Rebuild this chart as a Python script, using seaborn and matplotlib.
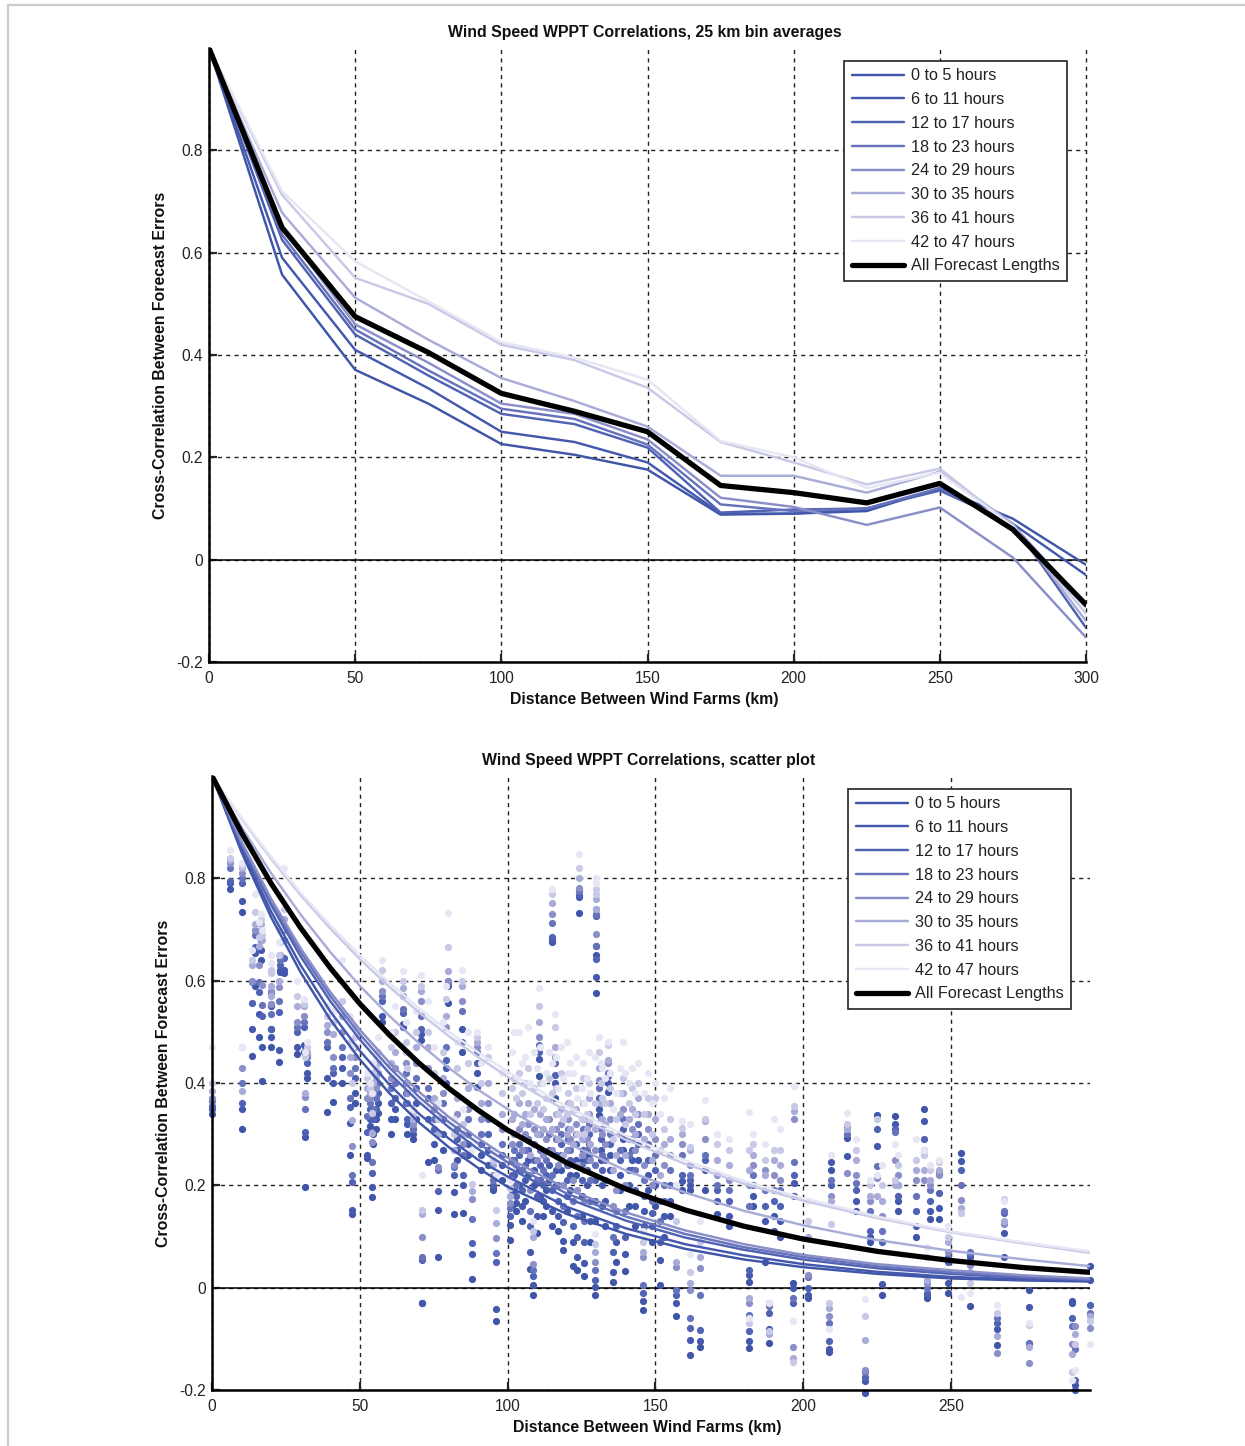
import matplotlib
matplotlib.use('Agg')
import seaborn as sns
import matplotlib.pyplot as plt
from matplotlib.lines import Line2D

sns.set_style('white')
plt.rcParams['font.family'] = ['Liberation Sans', 'DejaVu Sans']

bands = ['0 to 5 hours', '6 to 11 hours', '12 to 17 hours', '18 to 23 hours',
         '24 to 29 hours', '30 to 35 hours', '36 to 41 hours', '42 to 47 hours']
colors = ['#3f55a8', '#4459ae', '#5062b3', '#6673bc',
          '#8a8fc8', '#a9abd8', '#c8c9e6', '#e6e6f4']
all_label = 'All Forecast Lengths'
xlabel = 'Distance Between Wind Farms (km)'
ylabel = 'Cross-Correlation Between Forecast Errors'
yticks = [-0.2, 0, 0.2, 0.4, 0.6, 0.8]
ylabels = ['-0.2', '0', '0.2', '0.4', '0.6', '0.8']

# top panel, 25 km bins
bin_km = [0, 25, 50, 75, 100, 125, 150, 175, 200, 225, 250, 275, 300]
bin_0 = [1, .557, .371, .305, .226, .205, .176, .088, .090, .095, .140, .080, -.010]
bin_1 = [1, .590, .410, .335, .250, .230, .190, .090, .090, .100, .138, .070, -.030]
bin_2 = [1, .625, .440, .360, .285, .265, .219, .092, .098, .100, .135, .070, -.133]
bin_3 = [1, .635, .450, .370, .295, .275, .225, .108, .095, .100, .140, .068, -.090]
bin_4 = [1, .650, .460, .385, .305, .285, .235, .121, .103, .068, .102, .004, -.152]
bin_5 = [1, .678, .512, .430, .355, .310, .260, .164, .164, .131, .172, .070, -.120]
bin_6 = [1, .713, .551, .500, .420, .390, .336, .230, .190, .147, .178, .065, -.105]
bin_7 = [1, .720, .583, .505, .425, .395, .352, .232, .200, .140, .170, .065, -.095]
bin_all = [1, .649, .475, .405, .325, .290, .250, .145, .131, .111, .149, .059, -.088]
bin_lines = [bin_0, bin_1, bin_2, bin_3, bin_4, bin_5, bin_6, bin_7]

fit_km = [0, 10, 20, 30, 40, 50, 60, 70, 80, 90, 100, 120, 140, 160, 180, 200, 225, 250, 275, 297]
fit_0 = [1, .851, .724, .616, .524, .446, .380, .323, .275, .234, .197, .144, .105, .076, .055, .040, .027, .018, .014, .012]
fit_1 = [1, .857, .735, .630, .540, .463, .397, .340, .292, .250, .217, .158, .116, .085, .063, .046, .031, .021, .016, .014]
fit_2 = [1, .865, .748, .647, .560, .485, .419, .363, .314, .271, .235, .175, .131, .098, .074, .055, .038, .027, .019, .015]
fit_3 = [1, .869, .755, .656, .570, .495, .430, .373, .324, .282, .245, .184, .139, .105, .079, .060, .042, .030, .021, .016]
fit_4 = [1, .872, .760, .663, .578, .504, .440, .383, .334, .292, .254, .193, .147, .112, .085, .064, .046, .034, .024, .018]
fit_5 = [1, .900, .810, .729, .656, .590, .531, .478, .430, .387, .349, .283, .229, .186, .150, .122, .093, .072, .055, .042]
fit_6 = [1, .916, .838, .767, .702, .642, .588, .538, .492, .451, .412, .345, .289, .242, .203, .170, .136, .108, .086, .068]
fit_7 = [1, .918, .842, .772, .708, .650, .596, .546, .501, .460, .422, .354, .297, .249, .208, .175, .139, .110, .088, .071]
fit_all = [1, .889, .790, .703, .625, .555, .494, .439, .390, .347, .308, .244, .193, .152, .120, .095, .071, .053, .039, .030]
fit_lines = [fit_0, fit_1, fit_2, fit_3, fit_4, fit_5, fit_6, fit_7]

# scatter columns: km, then one value per forecast band
near_cols = [
    [0, .34, .35, .355, .365, .37, .385, .40, .47],
    [6, .78, .79, .795, .82, .83, .835, .84, .855],
    [10, .735, .755, .79, .80, .81, .82, .825, .83],
    [10, .31, .35, .36, .40, .43, .385, .47, .47],
    [13.5, .453, .506, .557, .597, .60, .63, .64, .66],
    [14.5, .59, .655, .665, .69, .70, .71, .735, .77],
    [16, .489, .534, .577, .598, .63, .667, .686, .715],
    [16.5, .64, .66, .68, .69, .70, .71, .72, .73],
    [17, .403, .47, .53, .553, .592, .68, .69, .70],
    [20, .47, .49, .505, .535, .555, .57, .62, .65],
    [20, .505, .55, .555, .575, .58, .59, .615, .635],
    [22.5, .442, .465, .538, .56, .588, .60, .65, .675],
    [23, .617, .62, .63, .64, .65, .675, .70, .71],
    [24.5, .615, .62, .645, .68, .70, .72, .74, .82],
    [28.8, .456, .47, .50, .51, .52, .55, .57, .60],
    [31.5, .196, .295, .305, .35, .372, .38, .45, .46],
    [31, .46, .475, .51, .52, .53, .55, .555, .565],
    [32, .41, .42, .44, .45, .455, .46, .47, .48],
    [39, .344, .41, .47, .48, .50, .514, .53, .55],
    [41, .362, .40, .42, .43, .45, .495, .52, .54],
    [44, .40, .43, .45, .47, .50, .53, .56, .64],
    [46.7, .26, .322, .354, .37, .42, .45, .48, .53],
    [47.5, .143, .152, .207, .22, .276, .328, .40, .47],
    [48.5, .36, .38, .41, .43, .45, .47, .49, .51],
    [52.5, .254, .26, .305, .335, .37, .39, .41, .42],
    [53.5, .315, .33, .35, .36, .37, .38, .39, .40],
    [54, .178, .196, .225, .246, .285, .303, .342, .38],
    [54.5, .28, .30, .33, .35, .38, .40, .42, .44],
    [55.5, .31, .33, .35, .37, .39, .41, .43, .45],
    [56, .342, .36, .38, .40, .42, .44, .46, .49],
    [57.5, .52, .53, .56, .57, .58, .60, .62, .64],
    [60.5, .30, .33, .36, .39, .41, .44, .47, .50],
    [62, .33, .35, .37, .40, .43, .46, .50, .55],
    [64.7, .51, .515, .537, .545, .57, .586, .60, .618],
    [65.5, .36, .38, .40, .42, .44, .46, .48, .52],
    [66, .30, .32, .33, .36, .38, .40, .43, .46],
    [68, .29, .30, .31, .31, .32, .33, .34, .35],
    [69, .33, .36, .39, .41, .44, .47, .50, .54],
    [70.7, .485, .495, .505, .53, .56, .58, .59, .612],
    [71, -.03, -.03, .055, .06, .10, .143, .152, .22],
    [73, .246, .33, .37, .39, .43, .47, .50, .56],
    [75, .25, .28, .31, .33, .35, .37, .42, .47],
    [76.5, .059, .152, .188, .23, .235, .30, .33, .36],
    [78, .27, .30, .33, .36, .38, .41, .46, .52],
    [79, .40, .43, .445, .47, .51, .53, .565, .59],
    [80, .557, .59, .595, .60, .60, .618, .665, .733],
    [82, .143, .186, .22, .235, .24, .27, .30, .33],
    [83, .25, .27, .29, .31, .34, .37, .43, .48],
    [84.5, .46, .505, .48, .54, .56, .59, .60, .62],
    [85, .145, .20, .22, .26, .28, .30, .32, .35],
    [86.5, .26, .28, .30, .33, .35, .39, .44, .50],
    [88, .017, .065, .088, .135, .174, .188, .203, .27],
    [89.6, .393, .42, .44, .46, .47, .48, .49, .50],
    [91, .23, .26, .28, .30, .33, .36, .40, .44],
    [93.5, .24, .27, .30, .33, .36, .40, .45, .47],
    [95, .19, .195, .20, .21, .22, .24, .25, .27],
    [96, -.066, -.041, .051, .068, .098, .127, .152, .22],
    [98, .21, .24, .26, .28, .31, .34, .38, .42],
]
dense_cols = [
    [100.8, .094, .123, .14, .155, .165, .18, .195, .21],
    [101.5, .16, .19, .22, .25, .28, .33, .39, .46],
    [102.2, .19, .22, .25, .27, .30, .34, .41, .50],
    [103, .15, .165, .18, .20, .24, .30, .37, .41],
    [104, .20, .23, .26, .28, .31, .36, .42, .50],
    [105, .13, .16, .19, .23, .27, .32, .38, .44],
    [106, .17, .21, .24, .27, .30, .34, .40, .45],
    [107, .22, .25, .27, .29, .32, .36, .43, .51],
    [107.6, .037, .07, .12, .15, .19, .26, .34, .40],
    [108.6, -.014, .005, .022, .035, .047, .10, .11, .13],
    [109, .20, .23, .25, .28, .31, .35, .39, .46],
    [110, .107, .14, .18, .21, .25, .30, .36, .43],
    [110.6, .413, .446, .46, .475, .49, .52, .551, .586],
    [111, .18, .21, .24, .27, .30, .34, .40, .47],
    [112, .14, .17, .20, .23, .26, .31, .35, .40],
    [113, .16, .19, .22, .25, .29, .33, .37, .42],
    [114, .21, .24, .27, .30, .33, .37, .41, .46],
    [115, .675, .68, .685, .712, .731, .752, .77, .78],
    [115, .12, .15, .19, .22, .27, .31, .38, .44],
    [116, .37, .40, .415, .44, .45, .47, .51, .534],
    [116.5, .20, .23, .26, .29, .31, .34, .39, .45],
    [117, .11, .14, .17, .20, .24, .29, .34, .39],
    [118, .23, .26, .28, .30, .32, .35, .42, .47],
    [118.8, .074, .092, .129, .16, .20, .26, .33, .41],
    [120, .15, .18, .21, .24, .27, .30, .34, .48],
    [120.5, .24, .27, .29, .31, .33, .36, .38, .42],
    [121, .19, .22, .25, .27, .29, .31, .36, .44],
    [122, .043, .09, .12, .17, .21, .28, .35, .42],
    [123, .22, .25, .28, .30, .32, .35, .39, .45],
    [123.5, .035, .06, .10, .14, .19, .24, .30, .37],
    [124, .733, .764, .768, .775, .782, .80, .82, .848],
    [125, .14, .18, .21, .24, .26, .29, .33, .39],
    [125.5, .25, .27, .29, .31, .33, .36, .41, .44],
    [126, .022, .049, .09, .13, .17, .23, .30, .36],
    [127, .20, .23, .25, .27, .29, .31, .34, .41],
    [127.5, .26, .28, .30, .32, .34, .37, .40, .46],
    [128, .09, .13, .17, .21, .25, .28, .33, .38],
    [129.6, -.014, .002, .015, .035, .05, .07, .085, .105],
    [129.6, .13, .17, .21, .24, .27, .31, .36, .45],
    [130, .575, .608, .643, .667, .692, .74, .77, .79],
    [130, .65, .667, .727, .73, .74, .76, .78, .80],
    [131, .338, .35, .37, .39, .405, .43, .46, .49],
    [131.5, .25, .27, .29, .31, .33, .36, .40, .44],
    [132, .16, .20, .23, .26, .30, .33, .37, .43],
    [133, .12, .17, .21, .25, .28, .32, .36, .41],
    [134, .383, .40, .413, .42, .44, .445, .475, .48],
    [134.5, .23, .26, .28, .30, .33, .36, .39, .42],
    [135.5, .012, .031, .07, .10, .16, .23, .29, .35],
    [136.8, .05, .09, .12, .15, .19, .26, .33, .38],
    [138, .19, .22, .25, .27, .30, .34, .38, .43],
    [139, .27, .29, .31, .33, .35, .38, .41, .48],
    [139.8, .033, .065, .10, .15, .20, .26, .32, .42],
    [141, .16, .20, .23, .26, .29, .33, .36, .40],
    [142, .23, .25, .27, .29, .31, .35, .39, .43],
    [143, .12, .16, .19, .23, .27, .30, .34, .38],
    [144, .25, .28, .30, .32, .34, .37, .40, .44],
    [145.8, -.043, -.027, -.01, .005, .06, .07, .09, .11],
    [146, .12, .15, .18, .21, .24, .29, .34, .38],
    [147.5, .19, .22, .25, .28, .31, .34, .37, .42],
    [148.8, .09, .12, .145, .17, .20, .25, .30, .36],
    [150, .16, .20, .23, .26, .29, .33, .37, .40],
    [151.5, .006, .055, .09, .13, .17, .22, .27, .34],
    [153, .10, .14, .17, .20, .24, .28, .31, .37],
    [155, .14, .17, .20, .23, .26, .29, .33, .39],
]
far_cols = [
    [157, -.055, -.03, -.014, -.005, .04, .05, .13, .20],
    [159, .19, .208, .22, .26, .28, .30, .312, .325],
    [161.7, -.131, -.102, -.078, -.06, -.004, .01, .03, .065],
    [161.7, .19, .20, .21, .22, .24, .27, .275, .32],
    [165, -.115, -.105, -.082, -.015, .039, .06, .09, .13],
    [166.7, .19, .23, .25, .26, .29, .325, .33, .367],
    [170.8, .143, .17, .19, .20, .22, .25, .28, .30],
    [175, .12, .14, .17, .19, .21, .24, .27, .29],
    [181.7, -.118, -.105, -.085, -.053, -.03, -.02, -.07, -.06],
    [181.7, .012, .024, .035, .16, .20, .23, .27, .344],
    [183, .16, .18, .20, .22, .24, .26, .28, .30],
    [188.4, -.108, -.08, -.05, -.035, -.03, -.09, -.085, -.03],
    [187, .05, .13, .16, .19, .23, .22, .25, .28],
    [190, .11, .14, .17, .19, .22, .25, .27, .33],
    [192, .10, .13, .16, .19, .21, .24, .27, .31],
    [196.5, .01, .0, -.03, -.02, -.115, -.137, -.145, -.065],
    [197, .18, .205, .22, .245, .33, .345, .355, .395],
    [201.7, -.02, -.015, .0, .02, .025, .10, .13, .17],
    [208.7, -.125, -.12, -.105, -.07, -.055, -.04, -.03, -.08],
    [209.4, .23, .245, .20, .21, .18, .17, .125, .26],
    [214.8, .293, .257, .313, .30, .225, .31, .32, .342],
    [218, .15, .17, .19, .205, .22, .25, .27, .29],
    [221, -.206, -.183, -.175, -.165, -.16, -.102, -.055, -.023],
    [222.6, .09, .10, .11, .15, .17, .18, .20, .21],
    [224.9, .338, .276, .31, .237, .215, .18, .33, .22],
    [226.7, -.015, .008, .09, .11, .14, .17, .20, .24],
    [231, .335, .32, .31, .305, .25, .20, .21, .28],
    [232, .15, .17, .18, .20, .22, .20, .24, .26],
    [238, .10, .12, .15, .18, .21, .23, .25, .29],
    [241, .35, .325, .29, .27, .21, .23, .26, .27],
    [242, -.02, -.015, -.01, .0, .01, .015, .06, .08],
    [243, .135, .15, .17, .19, .20, .21, .23, .24],
    [246, .135, .155, .185, .225, .22, .23, .245, .25],
    [249, -.01, .01, .05, .06, .07, .09, .10, .12],
    [253.4, .263, .247, .229, .20, .172, .155, .145, -.018],
    [256.5, -.035, .06, .065, .07, .045, .03, .01, -.01],
    [265.6, -.112, -.08, -.07, -.06, -.127, -.095, -.05, -.033],
    [268, .06, .107, .146, .15, .125, .13, .174, .17],
    [276.4, -.004, -.037, -.108, -.11, -.147, -.115, -.073, -.07],
    [291, -.03, -.027, -.06, -.075, -.11, -.13, -.165, -.18],
    [292, -.19, -.20, -.18, -.12, -.075, -.09, -.11, -.16],
    [297, .043, .015, -.034, -.05, -.078, -.055, -.065, -.11],
]
scatter_cols = near_cols + dense_cols + far_cols


def style_axes(ax, title, xticks, xlim):
    ax.set_xlim(*xlim)
    ax.set_ylim(-0.2, 1)
    ax.set_xticks(xticks)
    ax.set_yticks(yticks)
    ax.set_yticklabels(ylabels)
    ax.grid(True, color='#222222', linestyle=(0, (3, 3)), linewidth=1)
    ax.set_axisbelow(True)
    for line in ax.get_xgridlines():
        line.set_clip_on(False)
    ax.axhline(0, color='black', linewidth=1.1, zorder=1)
    sns.despine(ax=ax)
    for side in ['left', 'bottom']:
        ax.spines[side].set_linewidth(1.8)
        ax.spines[side].set_color('black')
    ax.tick_params(direction='in', length=6, width=1.6, left=True, bottom=True,
                   labelsize=11.2, labelcolor='#222222')
    ax.tick_params(axis='x', pad=6.5)
    ax.tick_params(axis='y', pad=4.5)
    ax.set_title(title, fontsize=11.45, fontweight='bold', pad=7.6, color='#111111', x=0.497)
    ax.set_xlabel(xlabel, fontsize=11.45, fontweight='bold', labelpad=4.5, color='#111111', x=0.496)
    ax.set_ylabel(ylabel, fontsize=11.45, fontweight='bold', labelpad=6.0, color='#111111')
    ax.legend(loc='upper right', bbox_to_anchor=(0.978, 0.979), borderaxespad=0,
              fontsize=11.7, frameon=True, framealpha=1, fancybox=False,
              edgecolor='#222222', handlelength=3.25, handletextpad=0.38,
              labelspacing=0.54, borderpad=0.45, labelcolor='#222222')
    ax.get_legend().get_frame().set_linewidth(1.2)


fig = plt.figure(figsize=(12.45, 14.46), dpi=100)
W, H = 1245, 1446
ax1 = fig.add_axes([209 / W, 1 - 662 / H, 877 / W, 614 / H])
ax2 = fig.add_axes([212 / W, 1 - 1390 / H, 878 / W, 614 / H])

# Binned averages
for vals, col, name in zip(bin_lines, colors, bands):
    sns.lineplot(x=bin_km, y=vals, color=col, linewidth=1.75, label=name, ax=ax1, zorder=3)
sns.lineplot(x=bin_km, y=bin_all, color='black', linewidth=3.8, label=all_label, ax=ax1, zorder=4)
style_axes(ax1, 'Wind Speed WPPT Correlations, 25 km bin averages',
           [0, 50, 100, 150, 200, 250, 300], (0, 300))

# Scatter with fitted curves
kms = [c[0] for c in scatter_cols]
for i, col in enumerate(colors):
    sns.scatterplot(x=kms, y=[c[i + 1] for c in scatter_cols], color=col, s=27,
                    linewidth=0, ax=ax2, zorder=2, clip_on=False)
for vals, col, name in zip(fit_lines, colors, bands):
    sns.lineplot(x=fit_km, y=vals, color=col, linewidth=1.75, label=name, ax=ax2, zorder=3)
sns.lineplot(x=fit_km, y=fit_all, color='black', linewidth=3.8, label=all_label, ax=ax2, zorder=4)
style_axes(ax2, 'Wind Speed WPPT Correlations, scatter plot',
           [0, 50, 100, 150, 200, 250], (0, 297))

# Grey page border on the top and left
fig.add_artist(Line2D([8 / W, 8 / W], [0, 1 - 5 / H], color='#cccccc', linewidth=1.6))
fig.add_artist(Line2D([8 / W, 1], [1 - 5 / H, 1 - 5 / H], color='#cccccc', linewidth=1.6))

plt.savefig('out.png', dpi=100)
